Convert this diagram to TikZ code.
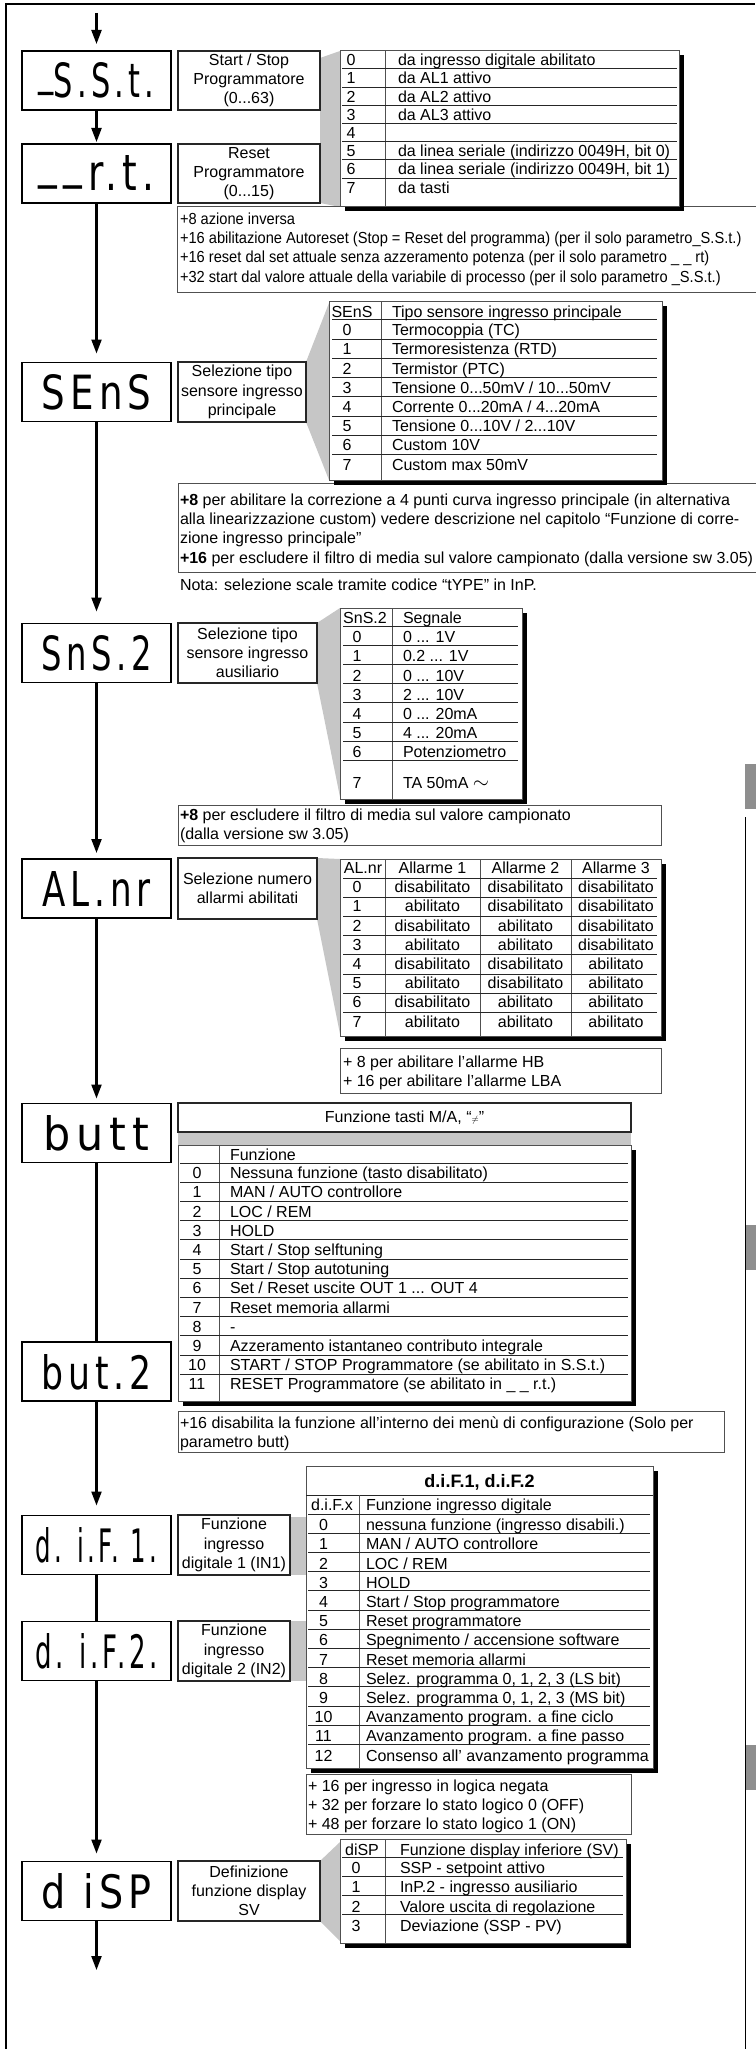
\documentclass[tikz,border=0pt]{standalone}
\usepackage{fontspec}
\usepackage{graphicx}
\setmainfont{Liberation Sans}
\newfontfamily\segfont[LetterSpace=14]{DejaVu Sans}
\usetikzlibrary{arrows.meta}
\definecolor{conngray}{HTML}{C6C6C6}
\definecolor{bargray}{HTML}{8E8E8E}
\definecolor{edgegray}{HTML}{505050}
\newcommand{\segtxt}[2]{\raisebox{0pt}[35pt][0pt]{\resizebox{#1}{35pt}{\segfont #2}}}
\newcommand{\tshell}[5]{\fill[black] ({#1+#5},{#2+#5}) rectangle ({#3+#5},{#4+#5});\draw[tabedge,fill=white] (#1,#2) rectangle (#3,#4);}
\newcommand{\rlines}[5]{\foreach \k in {0,...,#5} {\draw[rowline] (#1,{#3+#4*\k}) -- (#2,{#3+#4*\k});}}
\begin{document}
\begin{tikzpicture}[x=1pt,y=-1pt,
  font=\fontsize{16}{19.2}\selectfont,
  every node/.style={inner sep=0pt, outer sep=0pt},
  disp/.style={draw=black, line width=1.4pt, fill=white, minimum width=149pt, minimum height=59pt},
  descbox/.style={draw=black!85, line width=1.1pt, fill=white, align=center},
  flow/.style={line width=2.2pt, -{Triangle[width=10pt,length=14pt]}},
  plain/.style={line width=2.2pt},
  tabedge/.style={draw=edgegray, line width=1pt},
  rowline/.style={draw=black!85, line width=1pt},
  notebox/.style={draw=edgegray, line width=1pt},
  cl/.style={anchor=west, text height=11.5pt, text depth=0pt},
  cc/.style={anchor=center, text height=11.5pt, text depth=0pt}]

\useasboundingbox (0,0) rectangle (755,2049);

% frame
\draw[line width=2.8pt] (6,2049) -- (6,4) -- (755,4);
\fill[bargray] (745,764) rectangle (756,809);
\fill[bargray] (745,1225) rectangle (756,1270);
\fill[bargray] (745,1745) rectangle (756,1790);
\draw[line width=1.3pt] (745.6,817) -- (745.6,2049);

% gray connectors
\fill[conngray] (320,58) -- (340,51) -- (340,207) -- (320,203) -- cycle;
\fill[conngray] (306,362) -- (329,303) -- (329,480) -- (306,422) -- cycle;
\fill[conngray] (317,623) -- (340,608) -- (340,797) -- (317,683) -- cycle;
\fill[conngray] (317,858) -- (340,859) -- (340,1034) -- (317,919) -- cycle;
\fill[conngray] (178,1132) rectangle (631,1145);
\fill[conngray] (290,1517) rectangle (306,1575);
\fill[conngray] (290,1621) rectangle (306,1681);
\fill[conngray] (320,1861) -- (340,1842) -- (340,1941) -- (320,1921) -- cycle;

% note boxes
\draw[notebox] (177,207) rectangle (765,293);
\draw[notebox] (178,483) rectangle (765,572);
\draw[notebox] (178,805) rectangle (661,845);
\draw[notebox] (340,1048) rectangle (661,1093);
\draw[notebox] (178,1411) rectangle (724,1452);
\draw[notebox] (306,1774) rectangle (631,1834);

% display boxes
\node[disp] (sst) at (96.5,80.5) {\segtxt{116pt}{\raisebox{.28em}{\_}S.S.t.}};
\node[disp] (rt) at (96.5,173.5) {\segtxt{116pt}{\raisebox{.28em}{\_\,\_}\,r.t.}};
\node[disp] (sens) at (96.5,392) {\segtxt{110pt}{SEnS}};
\node[disp] (sns) at (96.5,653) {\segtxt{110pt}{SnS.2}};
\node[disp] (alnr) at (96.5,888.5) {\segtxt{108pt}{AL.nr}};
\node[disp] (butt) at (96.5,1133) {\segtxt{106pt}{butt}};
\node[disp] (but2) at (96.5,1371.5) {\segtxt{110pt}{but.2}};
\node[disp] (dif1) at (96.5,1545) {\segtxt{122pt}{d. i.F. 1.}};
\node[disp] (dif2) at (96.5,1651) {\segtxt{122pt}{d. i.F.2.}};
\node[disp] (disp) at (96.5,1891) {\segtxt{110pt}{d iSP}};

% description boxes
\node[descbox, minimum width=142pt, minimum height=59pt] (d1) at (249,80.5) {Start / Stop\\Programmatore\\(0...63)};
\node[descbox, minimum width=142pt, minimum height=59pt] (d2) at (249,173.5) {Reset\\Programmatore\\(0...15)};
\node[descbox, minimum width=128pt, minimum height=60pt] (dsens) at (242,392) {Selezione tipo\\sensore ingresso\\principale};
\node[descbox, minimum width=139pt, minimum height=60pt] (dsns) at (247.5,653) {Selezione tipo\\sensore ingresso\\ausiliario};
\node[descbox, minimum width=139pt, minimum height=61pt] (dal) at (247.5,888.5) {Selezione numero\\allarmi abilitati};
\node[descbox, minimum width=453pt, minimum height=29pt] (dbt) at (404.5,1117.5) {Funzione tasti M/A, “{\fontsize{9}{9}\selectfont$\neq$}”};
\node[descbox, minimum width=112pt, minimum height=60pt] (dd1) at (234,1545) {Funzione\\ingresso\\digitale 1 (IN1)};
\node[descbox, minimum width=112pt, minimum height=60pt] (dd2) at (234,1651) {Funzione\\ingresso\\digitale 2 (IN2)};
\node[descbox, minimum width=142pt, minimum height=60pt] (dsp) at (249,1891) {Definizione\\funzione display\\SV};

% table 1
\tshell{340}{51}{679}{207}{4.5}
\draw[tabedge] (385,51) -- (385,207);
\foreach \k in {0,...,6} {\draw[rowline] (342,{69+18.2*\k}) -- (677,{69+18.2*\k});}
\foreach \nm/\tx [count=\k from 0] in {0/{da ingresso digitale abilitato}, 1/{da AL1 attivo}, 2/{da AL2 attivo}, 3/{da AL3 attivo}, 4/{}, 5/{da linea seriale (indirizzo 0049H, bit 0)}, 6/{da linea seriale (indirizzo 0049H, bit 1)}, 7/{da tasti}}
  {\node[cc] (ta\k) at (351,{60+18.2*\k}) {\nm}; \node[cl] (tb\k) at (398,{60+18.2*\k}) {\tx};}
\node[anchor=north west] (n1t) at (180,211.1) {\scalebox{0.915}[1]{\begin{tabular}{@{}l@{}}+8 azione inversa\\+16 abilitazione Autoreset (Stop = Reset del programma) (per il solo parametro\_S.S.t.)\\+16 reset dal set attuale senza azzeramento potenza (per il solo parametro \_ \_ rt)\\+32 start dal valore attuale della variabile di processo (per il solo parametro \_S.S.t.)\end{tabular}}};

% SEnS table
\tshell{329}{302}{662}{480}{4.5}
\draw[tabedge] (381,302) -- (381,480);
\rlines{332}{657}{320}{19.2}{7}
\node[cc] (sh1) at (352,312) {SEnS};
\node[cl] (sh2) at (392,312) {Tipo sensore ingresso principale};
\foreach \nm/\tx [count=\k from 0] in {0/{Termocoppia (TC)}, 1/{Termoresistenza (RTD)}, 2/{Termistor (PTC)}, 3/{Tensione 0...50mV / 10...50mV}, 4/{Corrente 0...20mA / 4...20mA}, 5/{Tensione 0...10V / 2...10V}, 6/{Custom 10V}, 7/{Custom max 50mV}}
  {\node[cc] (sa\k) at (347,{330+19.2*\k}) {\nm}; \node[cl] (sb\k) at (392,{330+19.2*\k}) {\tx};}
\node[anchor=north west] (n2t) at (180,492.1) {\begin{tabular}{@{}l@{}}\textbf{+8} per abilitare la correzione a 4 punti curva ingresso principale (in alternativa\\alla linearizzazione custom) vedere descrizione nel capitolo “Funzione di corre-\\zione ingresso principale”\\\textbf{+16} per escludere il filtro di media sul valore campionato (dalla versione sw 3.05)\end{tabular}};
\node[cl] (nota) at (180,585) {Nota: selezione scale tramite codice “tYPE” in InP.};

% SnS.2 table
\tshell{340}{608}{522}{799}{4.5}
\draw[tabedge] (392,608) -- (392,799);
\rlines{343}{518}{626}{19.2}{7}
\node[cc] (ph1) at (365,618) {SnS.2};
\node[cl] (ph2) at (403,618) {Segnale};
\foreach \nm/\tx [count=\k from 0] in {0/{0 ... 1V}, 1/{0.2 ... 1V}, 2/{0 ... 10V}, 3/{2 ... 10V}, 4/{0 ... 20mA}, 5/{4 ... 20mA}, 6/{Potenziometro}}
  {\node[cc] (pa\k) at (357,{637+19.2*\k}) {\nm}; \node[cl] (pb\k) at (403,{637+19.2*\k}) {\tx};}
\node[cc] (pa7) at (357,783) {7};
\node[cl] (pb7) at (403,783) {TA 50mA {\fontsize{21}{21}\selectfont$\sim$}};
\node[anchor=north west] (n3t) at (180,807.1) {\begin{tabular}{@{}l@{}}\textbf{+8} per escludere il filtro di media sul valore campionato\\(dalla versione sw 3.05)\end{tabular}};

% AL.nr table
\tshell{340}{859}{661}{1036}{4.5}
\draw[tabedge] (385,859) -- (385,1036);
\draw[tabedge] (480,859) -- (480,1036);
\draw[tabedge] (571,859) -- (571,1036);
\rlines{343}{657}{878}{19.2}{7}
\node[cc] (ah0) at (363,868) {AL.nr};
\node[cc] (ah1) at (432.5,868) {Allarme 1};
\node[cc] (ah2) at (525.5,868) {Allarme 2};
\node[cc] (ah3) at (616,868) {Allarme 3};
\foreach \nm/\va/\vb/\vc [count=\k from 0] in {0/disabilitato/disabilitato/disabilitato, 1/abilitato/disabilitato/disabilitato, 2/disabilitato/abilitato/disabilitato, 3/abilitato/abilitato/disabilitato, 4/disabilitato/disabilitato/abilitato, 5/abilitato/disabilitato/abilitato, 6/disabilitato/abilitato/abilitato, 7/abilitato/abilitato/abilitato}
  {\node[cc] (aa\k) at (357,{887+19.2*\k}) {\nm};
   \node[cc] (ab\k) at (432.5,{887+19.2*\k}) {\va};
   \node[cc] (ac\k) at (525.5,{887+19.2*\k}) {\vb};
   \node[cc] (ad\k) at (616,{887+19.2*\k}) {\vc};}
\node[anchor=north west] (n4t) at (343,1054.1) {\begin{tabular}{@{}l@{}}+ 8 per abilitare l’allarme HB\\+ 16 per abilitare l’allarme LBA\end{tabular}};

% butt table
\tshell{178}{1145}{631}{1401}{4.5}
\draw[tabedge] (219,1145) -- (219,1401);
\rlines{180}{628}{1163}{19.2}{11}
\node[cl] (bh) at (230,1155) {Funzione};
\foreach \nm/\tx [count=\k from 0] in {0/{Nessuna funzione (tasto disabilitato)}, 1/{MAN / AUTO controllore}, 2/{LOC / REM}, 3/{HOLD}, 4/{Start / Stop selftuning}, 5/{Start / Stop autotuning}, 6/{Set / Reset uscite OUT 1 ... OUT 4}, 7/{Reset memoria allarmi}, 8/{-}, 9/{Azzeramento istantaneo contributo integrale}, 10/{START / STOP Programmatore (se abilitato in S.S.t.)}, 11/{RESET Programmatore (se abilitato in \_ \_ r.t.)}}
  {\node[cc] (ba\k) at (197,{1173+19.2*\k}) {\nm}; \node[cl] (bb\k) at (230,{1173+19.2*\k}) {\tx};}
\node[anchor=north west] (n5t) at (180,1415.1) {\begin{tabular}{@{}l@{}}+16 disabilita la funzione all’interno dei menù di configurazione (Solo per\\parametro butt)\end{tabular}};

% d.i.F. table
\tshell{306}{1466}{653}{1768}{5}
\draw[rowline] (306,1495) -- (653,1495);
\draw[tabedge] (359,1495) -- (359,1768);
\rlines{308}{650}{1514}{19.2}{12}
\node[cc, font=\fontsize{18}{20}\selectfont\bfseries] (ftitle) at (479.5,1482) {d.i.F.1, d.i.F.2};
\node[cc] (fh1) at (332,1505) {d.i.F.x};
\node[cl] (fh2) at (366,1505) {Funzione ingresso digitale};
\foreach \nm/\tx [count=\k from 0] in {0/{nessuna funzione (ingresso disabili.)}, 1/{MAN / AUTO controllore}, 2/{LOC / REM}, 3/{HOLD}, 4/{Start / Stop programmatore}, 5/{Reset programmatore}, 6/{Spegnimento / accensione software}, 7/{Reset memoria allarmi}, 8/{Selez. programma 0, 1, 2, 3 (LS bit)}, 9/{Selez. programma 0, 1, 2, 3 (MS bit)}, 10/{Avanzamento program. a fine ciclo}, 11/{Avanzamento program. a fine passo}, 12/{Consenso all’ avanzamento programma}}
  {\node[cc] (fa\k) at (323.5,{1525+19.2*\k}) {\nm}; \node[cl] (fb\k) at (366,{1525+19.2*\k}) {\tx};}
\node[anchor=north west] (n6t) at (308,1778.1) {\begin{tabular}{@{}l@{}}+ 16 per ingresso in logica negata\\+ 32 per forzare lo stato logico 0 (OFF)\\+ 48 per forzare lo stato logico 1 (ON)\end{tabular}};

% diSP table
\tshell{340}{1839}{626}{1943}{5}
\draw[tabedge] (385,1839) -- (385,1943);
\rlines{342}{623}{1857}{19.2}{3}
\node[cc] (dh1) at (362,1850) {diSP};
\node[cl] (dh2) at (400,1850) {Funzione display inferiore (SV)};
\foreach \nm/\tx [count=\k from 0] in {0/{SSP - setpoint attivo}, 1/{InP.2 - ingresso ausiliario}, 2/{Valore uscita di regolazione}, 3/{Deviazione (SSP - PV)}}
  {\node[cc] (da\k) at (356,{1868+19.2*\k}) {\nm}; \node[cl] (db\k) at (400,{1868+19.2*\k}) {\tx};}

% flow
\coordinate (start) at (96.5,13);
\coordinate (finish) at (96.5,1970);
\draw[flow, shorten >=7pt] (start) -- (sst.north);
\draw[flow, shorten >=2pt] (sst.south) -- (rt.north);
\draw[flow, shorten >=9pt] (rt.south) -- (sens.north);
\draw[flow, shorten >=12pt] (sens.south) -- (sns.north);
\draw[flow, shorten >=6pt] (sns.south) -- (alnr.north);
\draw[flow, shorten >=5pt] (alnr.south) -- (butt.north);
\draw[plain] (butt.south) -- (but2.north);
\draw[flow, shorten >=10pt] (but2.south) -- (dif1.north);
\draw[plain] (dif1.south) -- (dif2.north);
\draw[flow, shorten >=8pt] (dif2.south) -- (disp.north);
\draw[flow] (disp.south) -- (finish);
\end{tikzpicture}
\end{document}
